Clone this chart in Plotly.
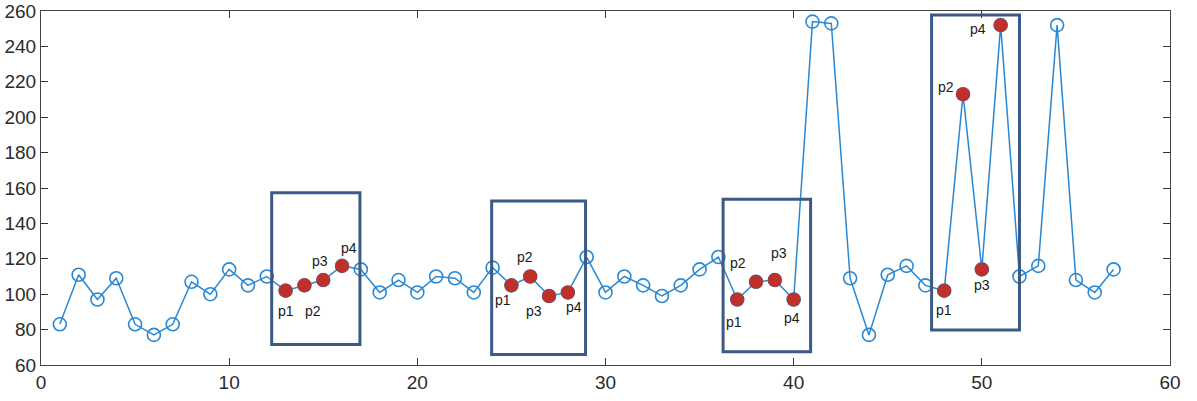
import plotly.graph_objects as go

# ---- data ----
x_idx = list(range(1, 58))
values = [83, 111, 97, 109, 83, 77, 83, 107, 100, 114, 105, 110,
          102, 105, 108, 116,
          114, 101, 108, 101, 110, 109, 101, 115,
          105, 110, 99, 101,
          121, 101, 110, 105, 99, 105, 114, 121,
          97, 107, 108, 97,
          254, 253, 109, 77, 111, 116, 105,
          102, 213, 114, 252,
          110, 116, 252, 108, 101, 114]
highlight_groups = [[13, 14, 15, 16], [25, 26, 27, 28], [37, 38, 39, 40], [48, 49, 50, 51]]
point_labels = ["p1", "p2", "p3", "p4"]
x_ticks = [0, 10, 20, 30, 40, 50, 60]
y_ticks = [60, 80, 100, 120, 140, 160, 180, 200, 220, 240, 260]

# ---- box extents (x0, x1, y0, y1) ----
boxes = [(12.26, 16.95, 71.6, 157.3), (23.95, 28.94, 66.0, 152.7),
         (36.25, 40.9, 67.5, 153.6), (47.33, 52.0, 79.8, 257.7)]
# label pixel offsets (dx right, dy up) for each group
label_offsets = [
    [(0, -20), (9, -26), (-3, 19), (7, 18)],
    [(-8, -15), (-5, 20), (-15, -15), (6, -15)],
    [(-3, -22), (-18, 19), (4, 27), (-2, -18)],
    [(0, -19), (-17, 7), (0, -16), (-23, -4)],
]

BLUE = "#2a88d2"
RED = "#c0302a"
BOX = "#3b5a86"
FONT = "Liberation Sans"

fig = go.Figure()
fig.add_trace(go.Scatter(
    x=x_idx, y=values, mode="lines+markers",
    line=dict(color=BLUE, width=1.5),
    marker=dict(symbol="circle-open", size=13, color=BLUE, line=dict(width=1.6, color=BLUE)),
    showlegend=False, hoverinfo="skip"))

hx, hy = [], []
for g in highlight_groups:
    for i in g:
        hx.append(i)
        hy.append(values[i - 1])
fig.add_trace(go.Scatter(
    x=hx, y=hy, mode="markers",
    marker=dict(symbol="circle", size=14, color=RED, line=dict(width=0)),
    showlegend=False, hoverinfo="skip"))

for (x0, x1, y0, y1) in boxes:
    fig.add_shape(type="rect", x0=x0, x1=x1, y0=y0, y1=y1, xref="x", yref="y",
                  line=dict(color=BOX, width=3), fillcolor="rgba(0,0,0,0)")

for g, offs in zip(highlight_groups, label_offsets):
    for i, lab, (dx, dy) in zip(g, point_labels, offs):
        fig.add_annotation(x=i, y=values[i - 1], text=lab, showarrow=False,
                           xshift=dx, yshift=dy,
                           font=dict(family=FONT, size=14, color="#1a1a1a"))

axis_common = dict(showline=True, linecolor="#444", linewidth=1, mirror="ticks",
                   ticks="inside", ticklen=7, tickcolor="#333", showgrid=False, zeroline=False,
                   automargin=False, ticklabeloverflow="allow",
                   tickfont=dict(family=FONT, size=19, color="#2b2b2b"))
fig.update_xaxes(range=[0, 60], tickvals=x_ticks, ticktext=[str(v) for v in x_ticks], **axis_common)
fig.update_yaxes(range=[60, 260], tickvals=y_ticks, ticktext=[str(v) for v in y_ticks],
                 ticklabelstandoff=0, **axis_common)

fig.update_layout(width=1197, height=401, margin=dict(l=41, r=27, t=11, b=36),
                  paper_bgcolor="white", plot_bgcolor="white")
fig.write_html("out.html", config={"displayModeBar": False},
               post_script="document.body.style.margin='0';document.body.style.overflow='hidden';")
